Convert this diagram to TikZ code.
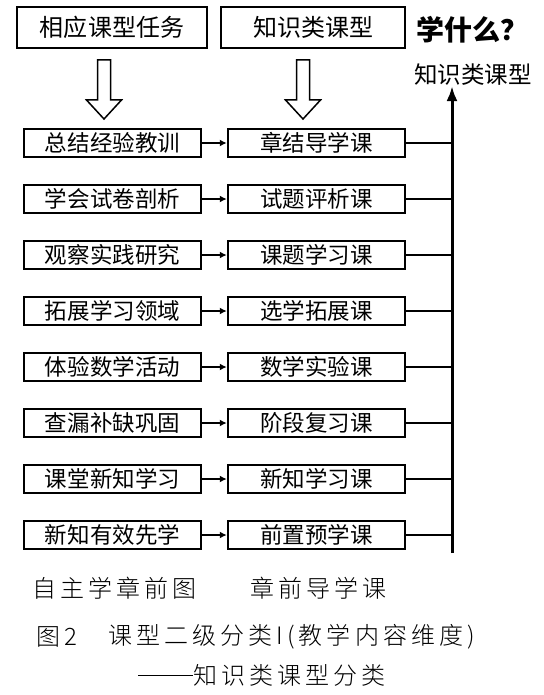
\documentclass[tikz,border=0pt]{standalone}
\usepackage{fontspec}
\usetikzlibrary{arrows.meta}
\newfontfamily\hei{Noto Sans CJK SC}
\newfontfamily\song[LetterSpace=17]{Noto Sans CJK SC Light}
\begin{document}
\begin{tikzpicture}[x=1bp,y=-1bp,
  box/.style={draw, line width=2.5bp, minimum width=177bp, minimum height=28bp, inner sep=0pt, font=\hei\fontsize{22.5bp}{24bp}\selectfont},
  topbox/.style={draw, line width=1.3bp, minimum height=41bp, inner sep=0pt, font=\hei\fontsize{24bp}{26bp}\selectfont},
  hollow/.style={draw, line width=1.5bp, fill=white, line join=miter},
  link/.style={line width=1.8bp, -{Latex[length=7bp,width=7bp]}},
  capt/.style={anchor=west, inner sep=0pt, font=\song\fontsize{24bp}{26bp}\selectfont}]
\useasboundingbox (0,0) rectangle (544,695);
\node[topbox, minimum width=190bp] (T1) at (112,27.5) {相应课型任务};
\node[topbox, minimum width=184bp] (T2) at (313,27.5) {知识类课型};
\node[inner sep=0pt, font=\hei\bfseries\fontsize{28bp}{30bp}\selectfont] (Q) at (472,30) {学什么？};
\draw[hollow, shift={(104,60)}] (-6.5,0) -- (6.5,0) -- (6.5,40) -- (17.5,40) -- (0,59) -- (-17.5,40) -- (-6.5,40) -- cycle;
\draw[hollow, shift={(303,60)}] (-6.5,0) -- (6.5,0) -- (6.5,40) -- (17.5,40) -- (0,59) -- (-17.5,40) -- (-6.5,40) -- cycle;
\coordinate (Vb) at (452,553);
\node[inner sep=0pt, font=\hei\fontsize{23.5bp}{26bp}\selectfont] (K) at (473,75) {知识类课型};
\draw[line width=3bp, -{Latex[length=15bp,width=11bp]}] (Vb) -- (Vb |- K.south);
\foreach \i/\a/\b in {1/总结经验教训/章结导学课, 2/学会试卷剖析/试题评析课, 3/观察实践研究/课题学习课, 4/拓展学习领域/选学拓展课, 5/体验数学活动/数学实验课, 6/查漏补缺巩固/阶段复习课, 7/课堂新知学习/新知学习课, 8/新知有效先学/前置预学课} {
  \node[box] (L\i) at (112.5, {143+56*(\i-1)}) {\a};
  \node[box] (R\i) at (316.5, {143+56*(\i-1)}) {\b};
  \draw[link] (L\i) -- (R\i);
  \draw[line width=2bp] (R\i.east) -- (R\i.east -| Vb);
}
\node[capt] (C1) at (32,588) {自主学章前图};
\node[capt] (C2) at (250,588) {章前导学课};
\node[capt] (C3) at (36,637) {图2};
\node[capt] (C4) at (108,637) {课型二级分类I(教学内容维度)};
\node[capt] (C5) at (138,675) {\rule[0.33em]{55bp}{0.9bp}知识类课型分类};
\end{tikzpicture}
\end{document}
